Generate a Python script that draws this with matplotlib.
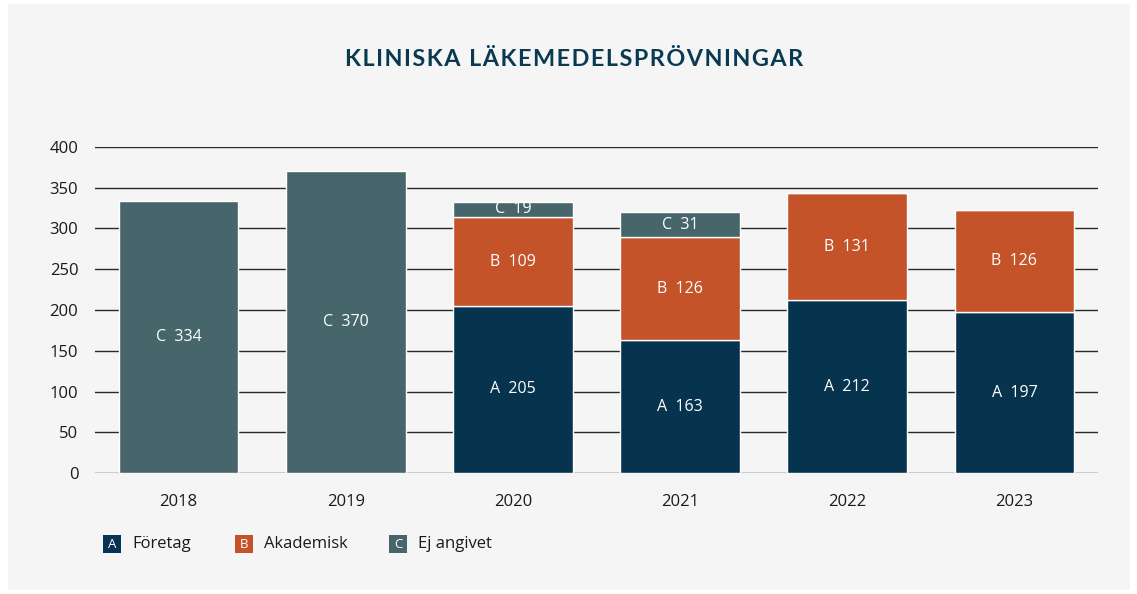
import numpy as np
import matplotlib.pyplot as plt
from matplotlib.patches import Rectangle

# Data
years = ['2018', '2019', '2020', '2021', '2022', '2023']
foretag = [0, 0, 205, 163, 212, 197]
akademisk = [0, 0, 109, 126, 131, 126]
ej_angivet = [334, 370, 19, 31, 0, 0]
y_ticks = [0, 50, 100, 150, 200, 250, 300, 350, 400]

colors = {'A': '#06344f', 'B': '#c4532a', 'C': '#47666b'}
bg = '#f5f5f5'

plt.rcParams['font.family'] = ['Open Sans', 'DejaVu Sans']

fig = plt.figure(figsize=(11.37, 5.94), dpi=100, facecolor='white')
# light grey panel behind everything
fig.patches.append(Rectangle((8 / 1137, 4 / 594), 1122 / 1137, 586 / 594,
                             transform=fig.transFigure, facecolor=bg,
                             edgecolor='none', zorder=-10))

ax = fig.add_axes([95 / 1137, 121 / 594, 1003 / 1137, 326 / 594])
ax.patch.set_visible(False)

x = np.arange(len(years))
width = 0.715

# Stack the three series
bottom = np.zeros(len(years))
for letter, values in [('A', foretag), ('B', akademisk), ('C', ej_angivet)]:
    values = np.array(values, dtype=float)
    ax.bar(x, values, width, bottom=bottom, color=colors[letter],
           edgecolor='white', linewidth=1, zorder=3)
    for xi, v, b in zip(x, values, bottom):
        if v > 0:
            ax.text(xi, b + v / 2, f'{letter}  {int(v)}', ha='center',
                    va='center', color='white', fontsize=11.5, zorder=4)
    bottom += values

ax.set_xlim(-0.5, len(years) - 0.5)
ax.set_ylim(0, 400)
ax.set_yticks(y_ticks)
ax.set_xticks(x)
ax.set_xticklabels(years)
ax.tick_params(axis='both', length=0, labelsize=12, colors='#1a1a1a')
ax.tick_params(axis='y', pad=12)
ax.tick_params(axis='x', pad=15)
ax.yaxis.grid(True, color='#2a2a2a', linewidth=1, zorder=1)
ax.set_axisbelow(True)
for s in ax.spines.values():
    s.set_visible(False)

# Title with a little extra letter spacing
title = 'KLINISKA LÄKEMEDELSPRÖVNINGAR'
fig.text(574 / 1137, 1 - 60 / 594, '\u200a'.join(title), ha='center',
         va='center', fontsize=16.8, fontweight='bold', color='#0a3a52',
         family=['Lato', 'DejaVu Sans'])

# Legend with lettered squares
legend_items = [('A', 'Företag', 103), ('B', 'Akademisk', 235), ('C', 'Ej angivet', 389)]
for letter, label, px in legend_items:
    fig.patches.append(Rectangle((px / 1137, 1 - 553 / 594), 18 / 1137, 18 / 594,
                                 transform=fig.transFigure,
                                 facecolor=colors[letter], edgecolor='none'))
    fig.text((px + 9) / 1137, 1 - 544 / 594, letter, ha='center', va='center',
             color='white', fontsize=9.5)
    fig.text((px + 29) / 1137, 1 - 544 / 594, label, ha='left', va='center',
             color='#1a1a1a', fontsize=12)

plt.savefig('out.png', dpi=100, facecolor='white')
